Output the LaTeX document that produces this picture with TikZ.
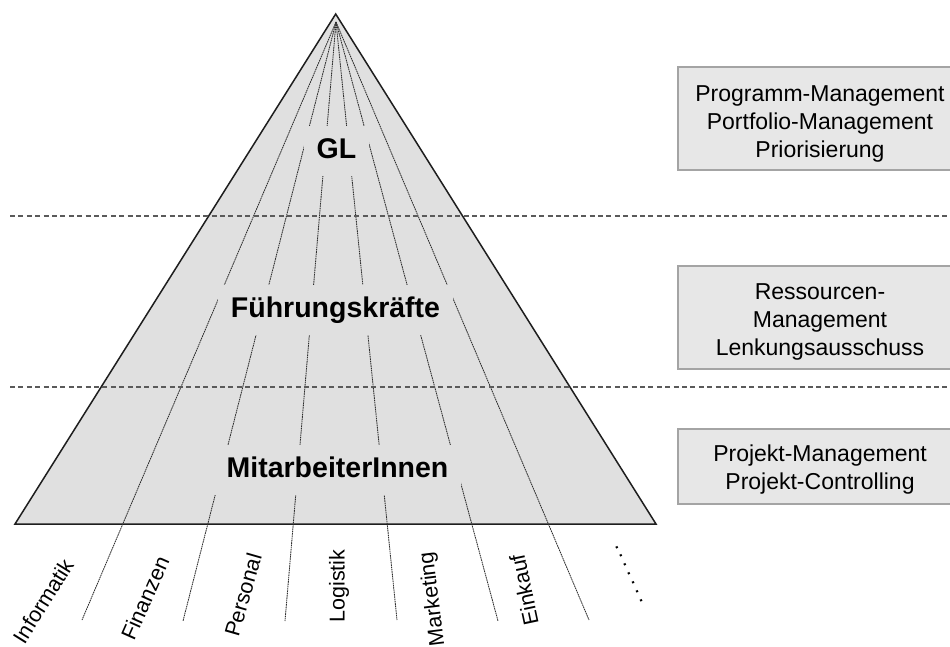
\documentclass[tikz,border=0pt]{standalone}
\usepackage{fontspec}
\setmainfont{Liberation Sans}
\definecolor{pyrfill}{HTML}{E0E0E0}
\definecolor{pyredge}{HTML}{1E1E1E}
\definecolor{boxfill}{HTML}{E7E7E7}
\definecolor{boxedge}{HTML}{A4A4A4}
\definecolor{raycol}{HTML}{2E2E2E}
\definecolor{sepcol}{HTML}{5A5A5A}
\tikzset{
  pyramid/.style={fill=pyrfill, draw=pyredge, line width=1.5pt, line join=miter},
  ray/.style={draw=raycol, line width=0.85pt, dash pattern=on 1.6pt off 0.7pt},
  separator/.style={draw=sepcol, line width=1.3pt, dash pattern=on 5pt off 3.4pt},
  level/.style={fill=pyrfill, inner xsep=13pt, inner ysep=0pt, minimum height=50pt,
    text height=20.5pt, text depth=6pt, font=\bfseries\fontsize{28.5}{34}\selectfont},
  taskbox/.style={fill=boxfill, draw=boxedge, line width=1.2pt, rectangle, inner sep=0pt},
  tasktext/.style={align=center, inner sep=0pt, anchor=north,
    font=\fontsize{23}{28}\selectfont},
  dept/.style={inner sep=0pt, font=\fontsize{21.5}{26}\selectfont},
}
\begin{document}
\begin{tikzpicture}[x=1pt, y=-1pt]
\clip (0,0) rectangle (950,646);
\useasboundingbox (0,0) rectangle (950,646);

% pyramid
\coordinate (top) at (335.7,14);
\coordinate (bl) at (15,524);
\coordinate (br) at (656,524);
\path[pyramid] (top) -- (br) -- (bl) -- cycle;

% fan of department boundaries
\coordinate (fan) at (336,22);
\coordinate (r1) at (82,620);
\coordinate (r2) at (183,621);
\coordinate (r3) at (285,621);
\coordinate (r4) at (397,620);
\coordinate (r5) at (498,621);
\coordinate (r6) at (589,620);
\foreach \r in {r1,r2,r3,r4,r5,r6}
  \draw[ray] (fan) -- (\r);

% level separators
\coordinate (s1a) at (10,216);
\coordinate (s1b) at (948,216);
\coordinate (s2a) at (10,387);
\coordinate (s2b) at (948,387);
\draw[separator] (s1a) -- (s1b);
\draw[separator] (s2a) -- (s2b);

% hierarchy levels
\node[level] (gl) at (336.5,151) {GL};
\node[level] (fk) at (335.5,310) {Führungskräfte};
\node[level] (ma) at (337.5,470) {MitarbeiterInnen};

% task boxes on the right
\node[taskbox, minimum width=284pt, minimum height=103pt] (b1) at (820,118.5) {};
\node[taskbox, minimum width=284pt, minimum height=103pt] (b2) at (820,317.5) {};
\node[taskbox, minimum width=284pt, minimum height=75pt] (b3) at (820,466.5) {};
\node[tasktext] (t1) at (820,85) {Programm-Management\\Portfolio-Management\\Priorisierung};
\node[tasktext] (t2) at (820,283) {Ressourcen-\\Management\\Lenkungsausschuss};
\node[tasktext] (t3) at (820,445) {Projekt-Management\\Projekt-Controlling};

% departments
\node[dept, rotate=58] (d1) at (43,601) {Informatik};
\node[dept, rotate=66] (d2) at (145,598) {Finanzen};
\node[dept, rotate=74] (d3) at (243,595) {Personal};
\node[dept, rotate=90] (d4) at (339,586) {Logistik};
\node[dept, rotate=97] (d5) at (433,599) {Marketing};
\node[dept, rotate=102] (d6) at (524,590) {Einkauf};
\node[dept, rotate=-65.5] (d7) at (629,574) {.\kern3.8pt.\kern3.8pt.\kern3.8pt.\kern3.8pt.\kern3.8pt.\kern3.8pt.};
\end{tikzpicture}
\end{document}
